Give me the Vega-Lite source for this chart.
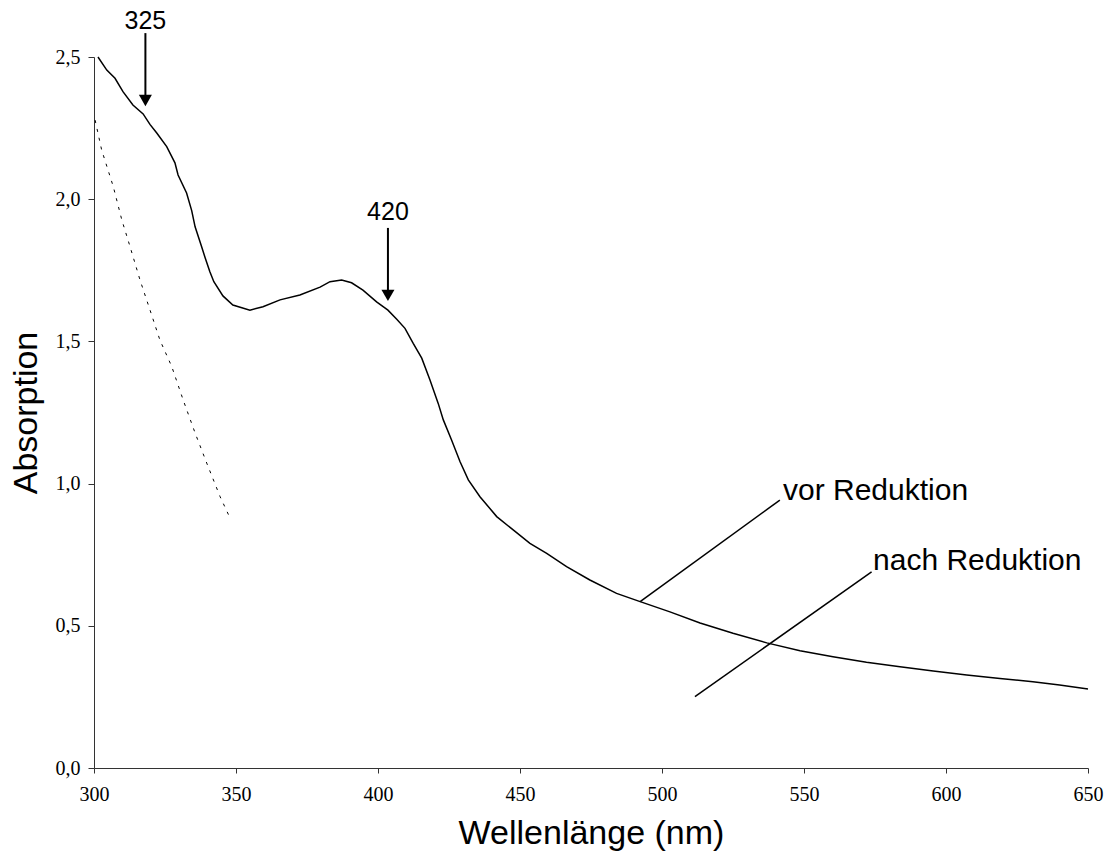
{
  "$schema": "https://vega.github.io/schema/vega-lite/v6.json",
  "width": 994,
  "height": 711,
  "autosize": "none",
  "padding": {"left": 94, "top": 57, "right": 19, "bottom": 88},
  "background": "white",
  "config": {"view": {"stroke": null}},
  "datasets": {
    "vor": [
      {"x": 301.4, "y": 2.5}, {"x": 304.5, "y": 2.454}, {"x": 307.4, "y": 2.425},
      {"x": 310.2, "y": 2.378}, {"x": 313.7, "y": 2.331}, {"x": 317.3, "y": 2.3}, {"x": 319.7, "y": 2.263},
      {"x": 322.1, "y": 2.233}, {"x": 325.6, "y": 2.185}, {"x": 328.5, "y": 2.128}, {"x": 329.6, "y": 2.085},
      {"x": 332.6, "y": 2.022}, {"x": 334.4, "y": 1.96}, {"x": 335.6, "y": 1.903}, {"x": 337.9, "y": 1.833},
      {"x": 339.1, "y": 1.795}, {"x": 340.8, "y": 1.745}, {"x": 342.2, "y": 1.71}, {"x": 345.4, "y": 1.66},
      {"x": 348.9, "y": 1.628}, {"x": 354.9, "y": 1.61}, {"x": 359.5, "y": 1.622}, {"x": 365.5, "y": 1.646},
      {"x": 372.5, "y": 1.663}, {"x": 379.6, "y": 1.691}, {"x": 383.1, "y": 1.71}, {"x": 387.2, "y": 1.716},
      {"x": 390.7, "y": 1.706}, {"x": 394.7, "y": 1.68}, {"x": 399.5, "y": 1.639}, {"x": 403.5, "y": 1.61},
      {"x": 406.6, "y": 1.578}, {"x": 409.5, "y": 1.546}, {"x": 412.4, "y": 1.493}, {"x": 415.4, "y": 1.441},
      {"x": 418.3, "y": 1.364}, {"x": 421.2, "y": 1.282}, {"x": 423.0, "y": 1.224}, {"x": 425.9, "y": 1.153},
      {"x": 428.9, "y": 1.077}, {"x": 431.8, "y": 1.013}, {"x": 435.9, "y": 0.954}, {"x": 441.8, "y": 0.884},
      {"x": 447.6, "y": 0.837}, {"x": 453.5, "y": 0.79}, {"x": 459.4, "y": 0.755}, {"x": 466.4, "y": 0.708},
      {"x": 474.6, "y": 0.661}, {"x": 484.0, "y": 0.614}, {"x": 492.3, "y": 0.585}, {"x": 502.8, "y": 0.549},
      {"x": 513.4, "y": 0.51}, {"x": 525.0, "y": 0.474}, {"x": 536.9, "y": 0.44}, {"x": 548.6, "y": 0.412},
      {"x": 560.2, "y": 0.391}, {"x": 572.0, "y": 0.372}, {"x": 583.8, "y": 0.356}, {"x": 595.5, "y": 0.341},
      {"x": 607.3, "y": 0.327}, {"x": 619.0, "y": 0.315}, {"x": 630.6, "y": 0.303}, {"x": 640.0, "y": 0.292},
      {"x": 650.0, "y": 0.278}
    ],
    "nach": [
      {"x": 300.4, "y": 2.278}, {"x": 302.7, "y": 2.173}, {"x": 306.8, "y": 2.044}, {"x": 309.8, "y": 1.927},
      {"x": 312.7, "y": 1.833}, {"x": 316.2, "y": 1.716}, {"x": 319.7, "y": 1.611}, {"x": 323.2, "y": 1.505},
      {"x": 327.4, "y": 1.411}, {"x": 331.4, "y": 1.294}, {"x": 335.6, "y": 1.178}, {"x": 339.7, "y": 1.072},
      {"x": 344.4, "y": 0.954}, {"x": 347.9, "y": 0.879}
    ],
    "arrows": [
      {"x": 318.1, "y": 2.584, "y2": 2.347, "label": "325", "ly": 2.6},
      {"x": 403.5, "y": 1.899, "y2": 1.662, "label": "420", "ly": 1.927}
    ],
    "leaders": [
      {"x": 492.3, "y": 0.585, "x2": 541.5, "y2": 0.942, "label": "vor Reduktion", "lx": 542.6, "ly": 0.942},
      {"x": 511.6, "y": 0.251, "x2": 573.8, "y2": 0.69, "label": "nach Reduktion", "lx": 574.3, "ly": 0.696}
    ]
  },
  "encoding": {
    "x": {
      "field": "x", "type": "quantitative",
      "scale": {"domain": [300, 650], "nice": false, "zero": false},
      "axis": {
        "title": "Wellenlänge (nm)", "values": [300, 350, 400, 450, 500, 550, 600, 650],
        "grid": false, "domainColor": "#333", "tickColor": "#333", "tickSize": 5,
        "labelFont": "Liberation Serif", "labelFontSize": 20, "labelColor": "#000", "labelPadding": 11,
        "labelFlush": false,
        "titleFont": "Liberation Sans", "titleFontSize": 34, "titleFontWeight": "normal", "titleColor": "#000",
        "titlePadding": 12
      }
    },
    "y": {
      "field": "y", "type": "quantitative",
      "scale": {"domain": [0, 2.5], "nice": false, "zero": false},
      "axis": {
        "title": "Absorption", "values": [0, 0.5, 1, 1.5, 2, 2.5],
        "labelExpr": "replace(format(datum.value, '.1f'), '.', ',')",
        "grid": false, "domainColor": "#333", "tickColor": "#333", "tickSize": 6,
        "labelFont": "Liberation Serif", "labelFontSize": 20, "labelColor": "#000", "labelPadding": 8,
        "labelFlush": false,
        "titleFont": "Liberation Sans", "titleFontSize": 34, "titleFontWeight": "normal", "titleColor": "#000",
        "titlePadding": 12
      }
    }
  },
  "layer": [
    {
      "data": {"name": "vor"},
      "mark": {"type": "line", "color": "#000", "strokeWidth": 1.5}
    },
    {
      "data": {"name": "nach"},
      "mark": {"type": "line", "color": "#000", "strokeWidth": 1, "strokeDash": [3, 6]}
    },
    {
      "data": {"name": "arrows"},
      "mark": {"type": "rule", "color": "#000", "strokeWidth": 2},
      "encoding": {"y2": {"field": "y2"}}
    },
    {
      "data": {"name": "arrows"},
      "mark": {"type": "point", "shape": "triangle-down", "filled": true, "color": "#000", "opacity": 1, "size": 170},
      "encoding": {"y": {"field": "y2", "type": "quantitative"}}
    },
    {
      "data": {"name": "arrows"},
      "mark": {"type": "text", "font": "Liberation Sans", "fontSize": 25, "color": "#000", "align": "center", "baseline": "alphabetic"},
      "encoding": {"y": {"field": "ly", "type": "quantitative"}, "text": {"field": "label"}}
    },
    {
      "data": {"name": "leaders"},
      "mark": {"type": "rule", "color": "#000", "strokeWidth": 1.5},
      "encoding": {"x2": {"field": "x2"}, "y2": {"field": "y2"}}
    },
    {
      "data": {"name": "leaders"},
      "mark": {"type": "text", "font": "Liberation Sans", "fontSize": 30, "color": "#000", "align": "left", "baseline": "alphabetic"},
      "encoding": {"x": {"field": "lx", "type": "quantitative"}, "y": {"field": "ly", "type": "quantitative"}, "text": {"field": "label"}}
    }
  ]
}
